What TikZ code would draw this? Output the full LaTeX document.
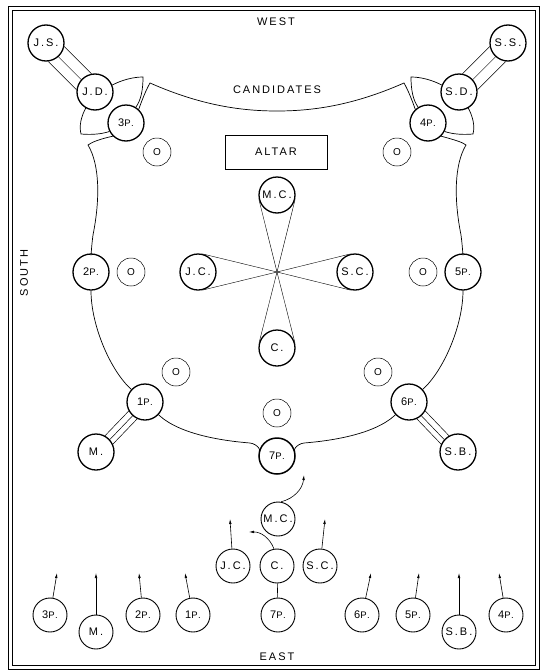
\documentclass[tikz,border=0pt]{standalone}
\usepackage{fontspec}
\setmainfont[LetterSpace=18]{Liberation Sans}
\usepackage{tikz}
\usetikzlibrary{calc,positioning,arrows.meta}
\newcommand{\Pdot}{{\fontsize{9.5}{10}\selectfont P.}}

\begin{document}
\begin{tikzpicture}[x=1pt,y=-1pt,
  every node/.style={font=\fontsize{11}{13}\selectfont},
  post/.style={draw, circle, line width=1.3pt, fill=white, minimum size=36pt, inner sep=0pt},
  lowpost/.style={draw, circle, line width=0.9pt, fill=white, minimum size=34pt, inner sep=0pt},
  light/.style={draw, circle, line width=0.5pt, fill=white, minimum size=28pt, inner sep=0pt, font=\fontsize{10}{11}\selectfont},
  rim/.style={line width=0.7pt},
  tie/.style={line width=0.5pt},
  arr/.style={-{Latex[length=5pt,width=2.6pt]}, line width=0.6pt}]
  \useasboundingbox (0,0) rectangle (543,672);

  % Frame
  \draw[line width=0.8pt] (8,6) rectangle (539,669);
  \draw[line width=0.8pt] (12,10) rectangle (535,665);

  \node (west) at (276,22) {WEST};
  \node (east) at (277,657) {EAST};
  \node[rotate=90] (south) at (24,273) {SOUTH};
  \node (cand) at (277,90) {CANDIDATES};
  \node[draw, line width=1pt, minimum width=102pt, minimum height=34pt, inner sep=0pt] (altar) at (276,152) {ALTAR};

  % Upper corners
  \node[post] (js) at (46,43) {J.S.};
  \node[post] (jd) at (95,92) {J.D.};
  \node[post] (p3) at (126,123) {3\Pdot};
  \node[post] (ss) at (508,43) {S.S.};
  \node[post] (sd) at (459,92) {S.D.};
  \node[post] (p4) at (428,123) {4\Pdot};
  \node[light] (o1) at (157,152) {O};
  \node[light] (o2) at (397,152) {O};

  % Centre
  \node[post] (mc) at (277,195) {M.C.};
  \node[post] (jc) at (198,272) {J.C.};
  \node[post] (sc) at (355,272) {S.C.};
  \node[post] (c) at (277,348) {C.};
  \coordinate (mid) at (277,272);
  \node[post] (p2) at (91,272) {2\Pdot};
  \node[post] (p5) at (463,272) {5\Pdot};
  \node[light] (o3) at (131,272) {O};
  \node[light] (o4) at (423,272) {O};

  % Lower part of the floor
  \node[light] (o5) at (176,372) {O};
  \node[light] (o6) at (378,372) {O};
  \node[light] (o7) at (277,413) {O};
  \node[post] (p1) at (145,402) {1\Pdot};
  \node[post] (p6) at (409,402) {6\Pdot};
  \node[post] (m) at (96,452) {M.};
  \node[post] (sb) at (458,452) {S.B.};
  \node[post, line width=1.5pt] (p7) at (277,456) {7\Pdot};

  % Procession
  \node[lowpost] (mcl) at (278,519) {M.C.};
  \node[lowpost] (jcl) at (233,566) {J.C.};
  \node[lowpost] (cl) at (277,566) {C.};
  \node[lowpost] (scl) at (320,566) {S.C.};
  \node[lowpost] (b3) at (50,615) {3\Pdot};
  \node[lowpost] (bm) at (96,632) {M.};
  \node[lowpost] (b2) at (143,615) {2\Pdot};
  \node[lowpost] (b1) at (193,615) {1\Pdot};
  \node[lowpost] (b7) at (278,615) {7\Pdot};
  \node[lowpost] (b6) at (362,615) {6\Pdot};
  \node[lowpost] (b5) at (413,615) {5\Pdot};
  \node[lowpost] (bsb) at (459,632) {S.B.};
  \node[lowpost] (b4) at (506,615) {4\Pdot};

  % Shield
  \draw[rim] (p3.47) .. controls (142,100) and (146,90) .. (150,83)
    .. controls (200,105) and (240,111) .. (277,111)
    .. controls (314,111) and (354,105) .. (404,83)
    .. controls (408,90) and (412,100) .. (p4.133);
  \draw[rim] (p4.315) .. controls (455,140) and (462,142) .. (466,145)
    .. controls (454,165) and (454,200) .. (461,235)
    .. controls (463,250) and (463,260) .. (p5)
    .. controls (463,325) and (444,370) .. (p6)
    .. controls (374,435) and (329,441) .. (304,443)
    .. controls (296,444) and (292,452) .. (p7)
    .. controls (262,452) and (258,444) .. (250,443)
    .. controls (225,441) and (180,435) .. (p1)
    .. controls (110,370) and (91,325) .. (p2)
    .. controls (91,260) and (91,250) .. (93,235)
    .. controls (100,200) and (100,165) .. (88,145)
    .. controls (92,142) and (100,139) .. (p3.225);

  % Corner pieces
  \draw[rim] (jd.22) .. controls (122,80) and (133,77) .. (143,77)
    .. controls (143,90) and (141,100) .. (p3.58);
  \draw[rim] (jd.240) .. controls (81,117) and (79,126) .. (81,134)
    .. controls (92,135) and (102,134) .. (p3.207);
  \draw[rim] (sd.158) .. controls (432,80) and (421,77) .. (411,77)
    .. controls (411,90) and (413,100) .. (p4.122);
  \draw[rim] (sd.300) .. controls (473,117) and (475,126) .. (473,134)
    .. controls (462,135) and (452,134) .. (p4.333);

  % Bands
  \draw[tie] (js.349) -- (jd.101);
  \draw[tie] (js.312) -- (jd.138);
  \draw[tie] (js.277) -- (jd.173);
  \draw[tie] (ss.191) -- (sd.79);
  \draw[tie] (ss.228) -- (sd.42);
  \draw[tie] (ss.263) -- (sd.7);
  \draw[tie] (m.25) -- (p1.245);
  \draw[tie] (m.42) -- (p1.228);
  \draw[tie] (m.61) -- (p1.209);
  \draw[tie] (sb.155) -- (p6.295);
  \draw[tie] (sb.138) -- (p6.312);
  \draw[tie] (sb.119) -- (p6.331);

  % Cross
  \foreach \n in {mc,jc,sc,c}
    \draw[line width=0.4pt] (tangent cs:node=\n,point={(mid)},solution=1) -- (mid)
      -- (tangent cs:node=\n,point={(mid)},solution=2);

  % Arrows
  \coordinate (tmc) at (304,475);
  \coordinate (tc) at (249,532);
  \coordinate (tjc) at (230,519);
  \coordinate (tsc) at (325,519);
  \draw[arr] (mcl.80) to[bend right=35] (tmc);
  \draw[arr] (cl.100) to[bend right=35] (tc);
  \draw[arr] (jcl) -- (tjc);
  \draw[arr] (scl) -- (tsc);
  \draw[line width=0.6pt] (cl) -- (b7);
  \foreach \n/\x in {b3/57,bm/96,b2/139,b1/185,b6/371,b5/419,bsb/459,b4/499}{
    \coordinate (t\n) at (\x,573);
    \draw[arr] (\n) -- (t\n);
  }
\end{tikzpicture}
\end{document}
